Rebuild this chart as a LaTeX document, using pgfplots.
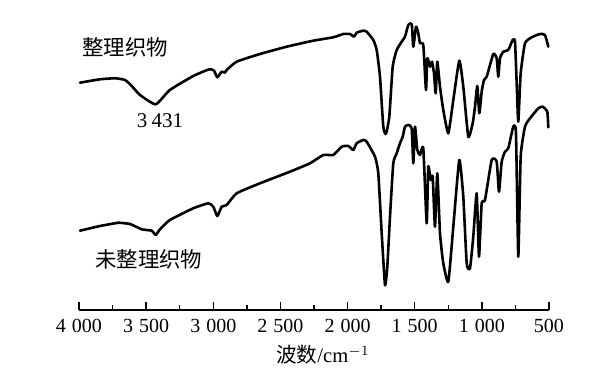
\documentclass[border=0pt]{standalone}
\usepackage{pgfplots}
\pgfplotsset{compat=1.18}
\usepackage{fontspec}
\setmainfont{Liberation Serif}
\newfontfamily\cjk{Noto Sans CJK SC}
\begin{document}
\begin{tikzpicture}
\path[use as bounding box] (0,0) rectangle (302pt,189pt);
\begin{axis}[
  at={(39.5pt,34pt)}, anchor=south west,
  scale only axis, width=235pt, height=145pt,
  xmin=500, xmax=4000, x dir=reverse,
  ymin=68, ymax=358,
  axis x line=bottom, axis y line=none,
  x axis line style={-, line width=0.7pt},
  xtick={500,1000,1500,2000,2500,3000,3500,4000},
  xticklabels={500,1\hspace{0.3em}000,1\hspace{0.3em}500,2\hspace{0.3em}000,2\hspace{0.3em}500,3\hspace{0.3em}000,3\hspace{0.3em}500,4\hspace{0.3em}000},
  minor x tick num=1,
  tick align=inside,
  major tick length=4pt, minor tick length=2.5pt,
  tick style={line width=0.7pt, black},
  xticklabel style={font=\fontsize{10}{11}\selectfont, yshift=-1pt},
  clip=false,
]
\addplot[black, line width=1.3pt, line join=round, line cap=round, smooth, tension=0.3] coordinates {
(3992.6,295.3)(3843.6,298.7)(3731.9,299.7)(3657.4,298)(3607.6,292)(3545.7,283)
(3428.8,273.7)(3323.4,288)(3148.8,302)(3029.7,308.7)(2994.7,307.3)(2970.1,300.7)
(2937.3,306.3)(2912.8,305.3)(2900.1,308)(2825.7,316.3)(2652.1,324)(2453.3,331.3)
(2255.2,337.3)(2106.3,340.7)(2031.8,344)(1981.9,344)(1952.1,341.3)(1932.0,345.3)
(1882.9,347.3)(1857.6,346.3)(1808.4,338)(1783.1,328)(1758.5,301.3)(1733.9,251.3)
(1713.8,244)(1689.3,261.3)(1663.9,311.3)(1634.1,328)(1596.9,336.3)(1572.3,341.3)
(1547.8,353)(1522.4,354)(1510.5,331.3)(1490.4,351.3)(1473.3,344.7)(1460.6,334.7)
(1436.1,333)(1416.0,288)(1406.3,319.7)(1386.2,311.3)(1371.3,316.3)(1356.4,304.7)
(1343.7,284.7)(1331.8,316.3)(1311.7,291.3)(1287.1,268)(1249.9,244.7)(1212.6,278)
(1168.0,317.3)(1138.2,291.3)(1100.9,241.3)(1068.2,254.7)(1051.1,271.3)(1034.0,292)
(1019.1,264.7)(1001.2,286.3)(984.1,298)(964.0,301.3)(914.8,324)(889.5,319.7)
(877.6,301.3)(864.9,319.7)(840.3,326.3)(803.1,328)(770.4,338)(753.2,336.3)
(740.6,294.7)(728.7,256.3)(710.8,304.7)(678.7,334.7)(628.8,340.7)(567.0,344)
(529.8,343)(505.2,331.3)
};
\addplot[black, line width=1.3pt, line join=round, line cap=round, smooth, tension=0.3] coordinates {
(3992.6,147.3)(3843.6,152)(3731.9,154.7)(3707.3,155.3)(3620.2,154)(3533.1,148.7)
(3458.6,147.3)(3428.8,143)(3396.8,148.7)(3323.4,158)(3148.8,169.7)(3037.1,174.7)
(3000.0,171.3)(2970.1,162)(2937.3,171.3)(2900.1,173)(2825.7,184.7)(2652.1,194.7)
(2428.7,206.3)(2279.8,214.7)(2180.7,223)(2106.3,223)(2043.7,231.3)(1994.6,232)
(1957.4,228)(1932.0,234.7)(1882.9,238)(1857.6,236.3)(1795.8,221.3)(1771.2,204.7)
(1745.8,144.7)(1721.3,93)(1704.1,111.3)(1684.0,161.3)(1659.5,214.7)(1634.1,224.7)
(1609.6,234.7)(1589.5,241.3)(1572.3,251.3)(1547.8,253)(1522.4,249.7)(1510.5,214.7)
(1497.9,251.3)(1480.7,228)(1460.6,223)(1436.1,229.7)(1410.8,154.7)(1398.9,211.3)
(1381.0,198)(1366.1,201.3)(1349.0,151.3)(1331.8,204.7)(1311.7,144.7)(1287.1,114.7)
(1249.9,96.3)(1212.6,151.3)(1168.0,218)(1138.2,181.3)(1112.9,114.7)(1088.3,109.7)
(1063.8,141.3)(1038.5,184.7)(1021.3,121.3)(1001.2,174.7)(976.6,178)(926.7,218)
(889.5,216.3)(872.4,186.3)(852.3,216.3)(827.7,226.3)(803.1,229.7)(765.9,251.3)
(745.8,244.7)(728.7,121.3)(710.8,221.3)(678.7,251.3)(641.5,259.7)(579.7,269.7)
(547.0,271.3)(512.8,266.3)(505.2,250.7)
};
\node[anchor=west, inner sep=0pt, font=\cjk\fontsize{10.7}{12}\selectfont] at (axis cs:3977.7,331) {整理织物};
\node[inner sep=0pt, font=\fontsize{10.5}{12}\selectfont] at (axis cs:3396.8,257) {3\hspace{0.2em}431};
\node[anchor=west, inner sep=0pt, font=\cjk\fontsize{10.7}{12}\selectfont] at (axis cs:3880.9,119) {未整理织物};
\node[inner sep=0pt, font=\fontsize{10.3}{12}\selectfont] at (axis description cs:0.5,0) [yshift=-22.5pt, xshift=4.5pt] {{\cjk 波数}/cm$^{-1}$};
\end{axis}
\end{tikzpicture}
\end{document}
